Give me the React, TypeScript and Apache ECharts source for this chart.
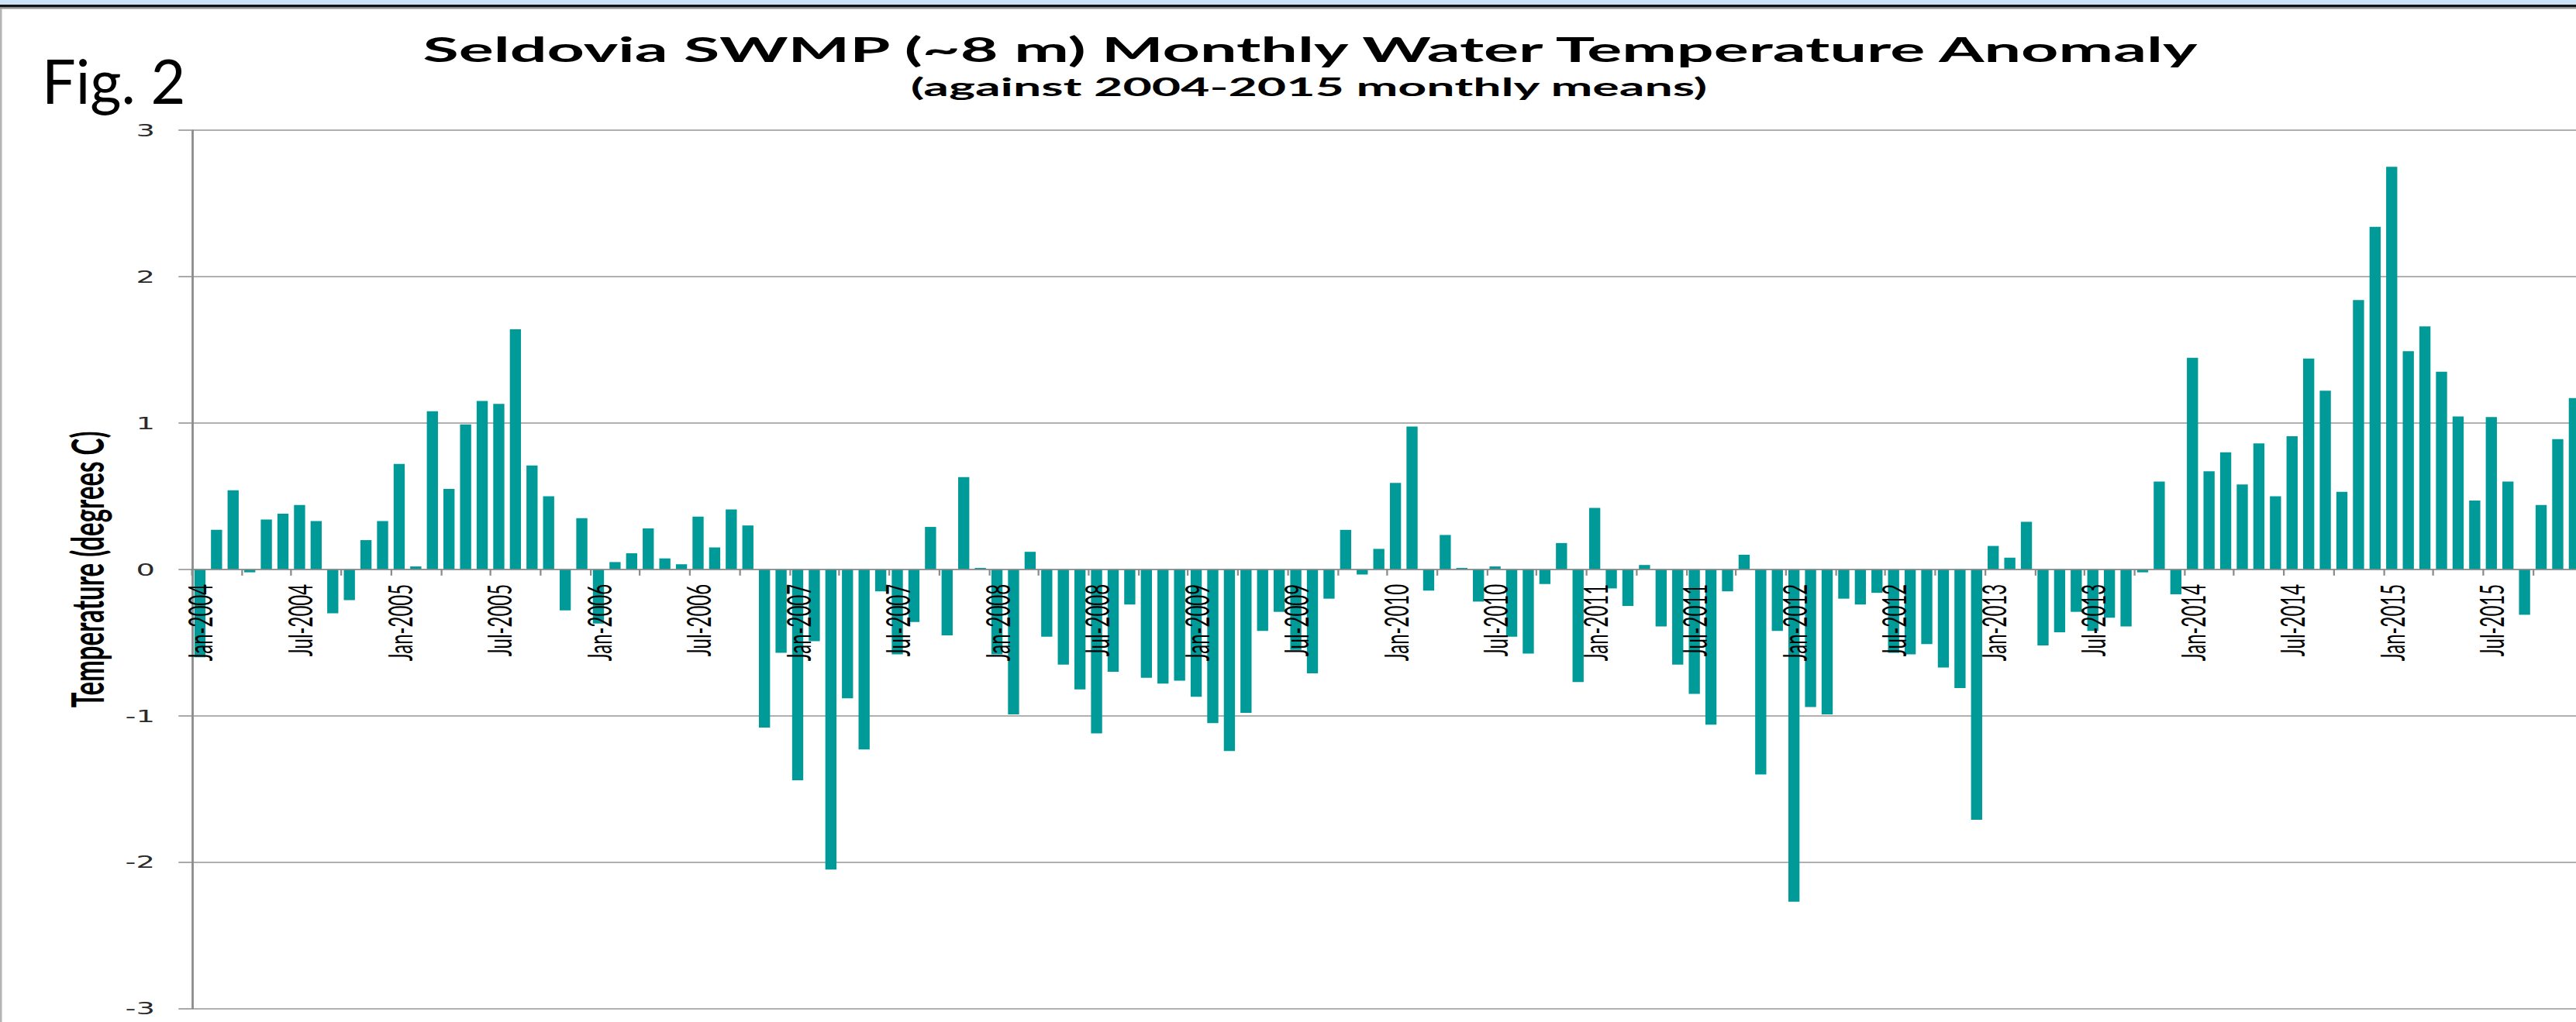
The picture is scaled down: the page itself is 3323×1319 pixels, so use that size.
import React, { useEffect, useRef } from "react";
import * as echarts from "echarts";

// ---- data ----
const MONTHS = ["Jan", "Feb", "Mar", "Apr", "May", "Jun", "Jul", "Aug", "Sep", "Oct", "Nov", "Dec"];
const YEARS = [2004, 2005, 2006, 2007, 2008, 2009, 2010, 2011, 2012, 2013, 2014, 2015];

const v2004 = [-0.6, 0.27, 0.54, -0.02, 0.34, 0.38, 0.44, 0.33, -0.3, -0.21, 0.2, 0.33];
const v2005 = [0.72, 0.02, 1.08, 0.55, 0.99, 1.15, 1.13, 1.64, 0.71, 0.5, -0.28, 0.35];
const v2006 = [-0.37, 0.05, 0.11, 0.28, 0.075, 0.035, 0.36, 0.15, 0.41, 0.3, -1.08, -0.57];
const v2007 = [-1.44, -0.49, -2.05, -0.88, -1.23, -0.15, -0.58, -0.36, 0.29, -0.45, 0.63, 0.01];
const v2008 = [-0.58, -0.99, 0.12, -0.46, -0.65, -0.82, -1.12, -0.7, -0.24, -0.74, -0.78, -0.76];
const v2009 = [-0.87, -1.05, -1.24, -0.98, -0.42, -0.29, -0.55, -0.71, -0.2, 0.27, -0.035, 0.14];
const v2010 = [0.59, 0.975, -0.145, 0.235, 0.01, -0.22, 0.02, -0.46, -0.575, -0.1, 0.18, -0.77];
const v2011 = [0.42, -0.13, -0.25, 0.03, -0.39, -0.65, -0.85, -1.06, -0.15, 0.1, -1.4, -0.42];
const v2012 = [-2.27, -0.94, -0.99, -0.2, -0.24, -0.16, -0.57, -0.58, -0.51, -0.67, -0.81, -1.71];
const v2013 = [0.16, 0.08, 0.325, -0.52, -0.43, -0.29, -0.42, -0.33, -0.39, -0.02, 0.6, -0.17];
const v2014 = [1.445, 0.67, 0.8, 0.58, 0.86, 0.5, 0.91, 1.44, 1.22, 0.53, 1.84, 2.34];
const v2015 = [2.75, 1.49, 1.66, 1.35, 1.045, 0.47, 1.04, 0.6, -0.31, 0.44, 0.89, 1.17];

const VALUES_BY_YEAR = [v2004, v2005, v2006, v2007, v2008, v2009, v2010, v2011, v2012, v2013, v2014, v2015];

const Y_MIN = -3;
const Y_MAX = 3;
const Y_STEP = 1;

const TITLE = "Seldovia SWMP (~8 m) Monthly Water Temperature Anomaly";
const SUBTITLE = "(against 2004-2015 monthly means)";
const FIG_LABEL = "Fig. 2";
const Y_NAME = "Temperature (degrees C)";

const categories = YEARS.flatMap((y) => MONTHS.map((m) => `${m}-${y}`));
const values = VALUES_BY_YEAR.flat();

// ---- layout (the picture is a horizontally stretched chart) ----
const S = 1.75; // horizontal stretch
const FULL_H = 1319;
const CHART_W = 1920; // chart-space width (runs a little past the window on the right)
const GRID_TOP = 168;
const GRID_BOTTOM_Y = 1301.7;
const fx = (x: number) => x / S;

export default function App() {
  const ref = useRef<HTMLDivElement>(null);

  useEffect(() => {
    const prevOverflow = document.documentElement.style.overflow;
    document.documentElement.style.overflow = "hidden";
    const chart = echarts.init(ref.current!, null, { renderer: "svg", width: CHART_W, height: FULL_H });
    const gridH = GRID_BOTTOM_Y - GRID_TOP;
    // the category axis sits on the zero line of the value axis
    const zeroOffset = -gridH * ((0 - Y_MIN) / (Y_MAX - Y_MIN));
    const option: any = {
      animation: false,
      backgroundColor: "#ffffff",
      grid: {
        left: fx(247.2),
        right: CHART_W - fx(3331.6),
        top: GRID_TOP,
        bottom: FULL_H - GRID_BOTTOM_Y,
        containLabel: false,
        outerBoundsMode: "none",
      },
      xAxis: {
        type: "category",
        data: categories,
        boundaryGap: true,
        position: "bottom",
        offset: zeroOffset,
        z: 5,
        axisLine: { onZero: false, lineStyle: { color: "#8c8c8c", width: 1.6 } },
        axisTick: { show: true, interval: 2, length: 8, lineStyle: { color: "#8c8c8c", width: 1.3 } },
        axisLabel: {
          interval: 5,
          rotate: 90,
          margin: 19,
          fontFamily: "Lato",
          fontSize: 24,
          color: "#000000",
        },
        splitLine: { show: false },
      },
      yAxis: {
        type: "value",
        min: Y_MIN,
        max: Y_MAX,
        interval: Y_STEP,
        name: Y_NAME,
        nameLocation: "middle",
        nameGap: 61,
        nameTextStyle: { fontFamily: "Lato", fontWeight: "bold", fontSize: 33, color: "#000000" },
        axisLine: { show: true, lineStyle: { color: "#8c8c8c", width: 1.6 } },
        axisTick: { show: true, length: 9.7, lineStyle: { color: "#8c8c8c", width: 1.5 } },
        axisLabel: { margin: 27, fontFamily: "DejaVu Sans", fontSize: 22, color: "#2a2a2a" },
        splitLine: { show: true, lineStyle: { color: "#969696", width: 1.5 } },
      },
      series: [
        {
          type: "bar",
          data: values,
          barWidth: "67%",
          itemStyle: { color: "#009a99" },
        },
      ],
      graphic: [
        { type: "rect", shape: { x: 0, y: 0, width: CHART_W, height: 6 }, style: { fill: "#cde4f8" }, silent: true },
        { type: "rect", shape: { x: 0, y: 6, width: CHART_W, height: 3.5 }, style: { fill: "#141414" }, silent: true },
        { type: "rect", shape: { x: 0, y: 9.5, width: CHART_W, height: 2 }, style: { fill: "#8f8f8f" }, silent: true },
        { type: "rect", shape: { x: 0, y: 11, width: fx(2.5), height: FULL_H - 11 }, style: { fill: "#b4b4b4" }, silent: true },
        {
          type: "text",
          x: fx(1690),
          y: 62.6,
          scaleX: 1.096,
          style: {
            text: TITLE,
            fontFamily: "Lato",
            fontWeight: "bold",
            fontSize: 44,
            fill: "#000000",
            textAlign: "center",
            textVerticalAlign: "middle",
          },
        },
        {
          type: "text",
          x: fx(1688.5),
          y: 111.7,
          scaleX: 1.15,
          style: {
            text: SUBTITLE,
            fontFamily: "Lato",
            fontWeight: "bold",
            fontSize: 32,
            fill: "#000000",
            textAlign: "center",
            textVerticalAlign: "middle",
          },
        },
        {
          type: "text",
          x: fx(54),
          y: 103,
          scaleX: 0.553,
          style: {
            text: FIG_LABEL,
            fontFamily: "Lato",
            fontSize: 80,
            fill: "#000000",
            textAlign: "left",
            textVerticalAlign: "middle",
          },
        },
      ],
    };
    chart.setOption(option);
    return () => {
      chart.dispose();
      document.documentElement.style.overflow = prevOverflow;
    };
  }, []);

  return (
    <div
      ref={ref}
      style={{
        position: "fixed",
        left: 0,
        top: 0,
        width: CHART_W,
        height: FULL_H,
        transform: `scaleX(${S})`,
        transformOrigin: "0 0",
        background: "#ffffff",
      }}
    />
  );
}
